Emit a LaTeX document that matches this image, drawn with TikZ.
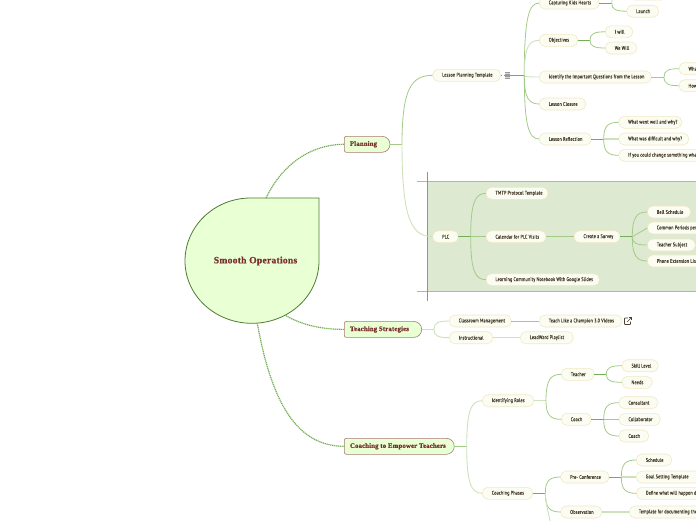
\documentclass[tikz,border=0pt]{standalone}
\usepackage{fontspec}
\setmainfont{PT Sans}
\newfontfamily\leaffont[LetterSpace=3,FakeStretch=.78,FakeBold=.25]{PT Sans}
\newfontfamily\headfont[FakeBold=.5,LetterSpace=2]{Liberation Serif Bold}
\usetikzlibrary{calc}
\definecolor{lborder}{HTML}{F1E8C4}
\definecolor{lfill}{HTML}{FBFDF2}
\definecolor{ltext}{HTML}{4A4030}
\definecolor{headtext}{HTML}{7A2E2E}
\definecolor{headborder}{HTML}{A87A72}
\definecolor{headfill}{HTML}{E9FFD4}
\definecolor{gmid}{HTML}{A3CB88}
\definecolor{gpale}{HTML}{CDE2BB}
\definecolor{gdark}{HTML}{75AD54}
\definecolor{band}{HTML}{DEE9D2}
\definecolor{bandline}{HTML}{9CCB80}
\definecolor{rootline}{HTML}{4F7A34}
\tikzset{
 leaf/.style={draw=lborder,fill=lfill,line width=.6pt,rounded corners=5.5pt,minimum height=12pt,inner ysep=0pt,inner xsep=9.5pt,outer sep=0pt,text=ltext,font=\leaffont\fontsize{5.4}{6}\selectfont,anchor=west},
 headbox/.style={inner sep=0pt,outer sep=0pt,minimum height=16pt,text=headtext,font=\headfont\fontsize{6.8}{8}\selectfont,anchor=west},
 link/.style={draw=gmid,line width=.8pt},
 palelink/.style={draw=gpale,line width=.9pt},
 stub/.style={draw=gdark,line width=1pt},
 palestub/.style={draw=gpale,line width=1.4pt},
 dotlink/.style={draw=gdark,line width=1.2pt,dash pattern=on 1.2pt off .7pt},
}
% \curv{junction}{child}{style}
\newcommand{\curv}[3]{\draw[#3] (#1) .. controls ($(#1)!.8!(#1|-#2.west)$) and ($(#2.west)!.7!(#1|-#2.west)$) .. (#2.west);}
% \lf{name}{left}{right}{cy}{text}
\newcommand{\lf}[5]{\node[leaf] (#1) at (#2,#4) {\makebox[\dimexpr#3pt-#2pt-19pt\relax][l]{#5}};}
\newcommand{\hd}[5]{%
 \draw[draw=headborder,fill=headfill,line width=.6pt] (#2+2,#4-8) -- (#3-8,#4-8) arc[start angle=270,end angle=360,radius=8] arc[start angle=0,end angle=90,radius=8] -- (#2+2,#4+8) arc[start angle=90,end angle=180,radius=2] -- (#2,#4-6) arc[start angle=180,end angle=270,radius=2] -- cycle;
 \node[headbox,inner xsep=5.7pt] (#1) at (#2,#4) {\makebox[\dimexpr#3pt-#2pt-11.4pt\relax][l]{#5}};}
\begin{document}
\begin{tikzpicture}[x=1pt,y=-1pt]
\useasboundingbox (0,0) rectangle (696,520);
% PLC band
\fill[band] (427.3,181.7) rectangle (696,291.3);
\draw[bandline,line width=1pt] (417.3,181.7) -- (696,181.7);
\draw[bandline,line width=1pt] (417.3,291.3) -- (696,291.3);
\draw[gdark,line width=.8pt] (427.3,172.3) -- (427.3,301);
% root
\draw[rootline,fill=headfill,line width=.8pt] (250.7,198) -- (319,198) -- (319,261) arc[start angle=0,end angle=180,x radius=67,y radius=62.3] arc[start angle=180,end angle=270,x radius=65.7,y radius=63] -- cycle;
\node[text=headtext,font=\headfont\fontsize{9.7}{12}\selectfont,inner sep=0pt] (root) at (255.5,261) {Smooth Operations};
% heads
\hd{plan}{344.3}{390}{144.3}{Planning}
\hd{teach}{344.3}{421.7}{329.4}{Teaching Strategies}
\hd{coachemp}{344.3}{454.3}{446.3}{Coaching to Empower Teachers}
\coordinate (rp) at (266,198);
\coordinate (rt) at (286,315.7);
\coordinate (rc) at (257.3,323.3);
\draw[dotlink] (rp) .. controls (283,163) and (312,144.3) .. (plan.west);
\draw[dotlink] (rt) .. controls (302,325) and (322,329.4) .. (teach.west);
\draw[dotlink] (rc) .. controls (272,405) and (298,446.3) .. (coachemp.west);
% leaves
\lf{lpt}{432.7}{500.7}{75.3}{Lesson Planning Template}
\lf{ckh}{539.3}{599.3}{3}{Capturing Kids Hearts}
\lf{tp}{629}{667}{-6}{}
\lf{lau}{626.7}{658.7}{11.2}{Launch}
\lf{obj}{539.3}{577.7}{40.3}{Objectives}
\lf{iw}{605.3}{632.7}{31.8}{I will}
\lf{ww}{605.3}{636.7}{48}{We Will}
\lf{iq}{539.3}{651.3}{77}{Identify the Important Questions from the Lesson}
\lf{wha}{679}{720}{68.7}{What}
\lf{how}{679}{720}{85.7}{How}
\lf{cl}{539.3}{585.7}{104}{Lesson Closure}
\lf{ref}{539.3}{591.3}{139}{Lesson Reflection}
\lf{wg}{618.7}{681.7}{122.3}{What went well and why?}
\lf{wd}{618.7}{688.7}{139}{What was difficult and why?}
\lf{ic}{618.7}{740}{155.3}{If you could change something what}
\lf{plc}{432.7}{458.3}{236.7}{PLC}
\lf{tmtp}{486}{548}{193.3}{TMTP Protocol Template}
\lf{cal}{486}{546}{236.7}{Calendar for PLC Visits}
\lf{lcn}{486}{599.3}{279.7}{Learning Community Notebook With Google Slides}
\lf{sur}{574}{620}{236.7}{Create a Survey}
\lf{bell}{647.3}{690.7}{212}{Bell Schedule}
\lf{cp}{647.3}{740}{228}{Common Periods per}
\lf{ts}{647.3}{695.3}{245}{Teacher Subject}
\lf{pe}{647.3}{720}{261}{Phone Extension List}
\lf{cm}{449.3}{511.3}{321}{Classroom Management}
\lf{tc}{539.3}{622}{321}{Teach Like a Champion 3.0 Videos}
\lf{ins}{449.3}{492.7}{337.7}{Instructional}
\lf{lw}{520.3}{573.3}{337.7}{LeadWard Playlist}
\lf{ir}{482.3}{533.7}{400.7}{Identifying Roles}
\lf{te}{561.3}{594.3}{374.3}{Teacher}
\lf{sk}{622}{658.3}{365.7}{Skill Level}
\lf{ne}{622}{652.3}{382.3}{Needs}
\lf{co}{561.3}{591.3}{419.3}{Coach}
\lf{cons}{619}{657.7}{402.7}{Consultant}
\lf{coll}{619}{660.3}{419.3}{Collaborator}
\lf{coa}{619}{648.7}{436}{Coach}
\lf{cph}{482.3}{532.7}{493.3}{Coaching Phases}
\lf{pre}{560.7}{609}{477}{Pre- Conference}
\lf{sch}{636.3}{671.7}{460}{Schedule}
\lf{gs}{636.3}{700}{477}{Goal Setting Template}
\lf{dw}{636.3}{750}{493.3}{Define what will happen dur}
\lf{obs}{560.7}{601.7}{512}{Observation}
\lf{tfd}{629.3}{750}{512}{Template for documenting the}
% junctions
\coordinate (jplan) at (402,144.3);
\coordinate (jlpt) at (524.3,75.3);
\coordinate (jckh) at (611.7,3);
\coordinate (jobj) at (590,40.3);
\coordinate (jiq) at (664,77);
\coordinate (jref) at (603.7,139);
\coordinate (jplc) at (470.7,236.7);
\coordinate (jsur) at (632.3,236.7);
\coordinate (jteach) at (434,329.4);
\coordinate (jemp) at (466.7,446.3);
\coordinate (jir) at (546,400.7);
\coordinate (jte) at (606.3,374.3);
\coordinate (jco) at (603.7,419.3);
\coordinate (jcph) at (545.3,493.3);
\coordinate (jpre) at (621.3,477);
\coordinate (bel) at (551,525);
% note icon
\node[inner sep=0pt,outer sep=0pt,minimum width=5.5pt,minimum height=6pt,fill=gray!30] (note) at (507.3,75.3) {};
\draw[gray!80,line width=.4pt] (note.north west) -- (note.north east);
\draw[gray!80,line width=.4pt] (note.west) -- (note.east);
\draw[gray!80,line width=.4pt] (note.south west) -- (note.south east);
\draw[gray!80,line width=.4pt] ($(note.north west)!.33!(note.south west)$) -- ($(note.north east)!.33!(note.south east)$);
\draw[gray!80,line width=.4pt] ($(note.north west)!.67!(note.south west)$) -- ($(note.north east)!.67!(note.south east)$);
% stubs and curves
\draw[link] (plan.east) -- (jplan);
\curv{jplan}{lpt}{link}
\curv{jplan}{plc}{palelink}
\draw[gdark,line width=.5pt,dash pattern=on 1.5pt off 1.5pt] (lpt.east) -- (note.west);
\draw[stub] (note.east) -- (jlpt);
\curv{jlpt}{ckh}{link}
\curv{jlpt}{obj}{palelink}
\curv{jlpt}{iq}{palelink}
\curv{jlpt}{cl}{link}
\curv{jlpt}{ref}{link}
\draw[stub] (ckh.east) -- (jckh);
\curv{jckh}{tp}{palelink}
\curv{jckh}{lau}{link}
\draw[stub] (obj.east) -- (jobj);
\curv{jobj}{iw}{link}
\curv{jobj}{ww}{link}
\draw[link] (iq.east) -- (jiq);
\curv{jiq}{wha}{link}
\curv{jiq}{how}{link}
\draw[stub] (ref.east) -- (jref);
\curv{jref}{wg}{link}
\draw[palestub] (jref) -- (wd.west);
\curv{jref}{ic}{link}
\draw[stub] (plc.east) -- (jplc);
\curv{jplc}{tmtp}{link}
\draw[link] (jplc) -- (cal.west);
\curv{jplc}{lcn}{link}
\draw[link,line width=.9pt] (cal.east) -- (sur.west);
\draw[stub] (sur.east) -- (jsur);
\curv{jsur}{bell}{link}
\draw[link] (jsur) -- (cp.west);
\curv{jsur}{ts}{link}
\curv{jsur}{pe}{link}
\draw[palestub] (teach.east) -- (jteach);
\curv{jteach}{cm}{palelink}
\curv{jteach}{ins}{palelink}
\draw[link] (cm.east) -- (tc.west);
\draw[palestub] (ins.east) -- (lw.west);
\draw[link,line width=.9pt] (coachemp.east) -- (jemp);
\curv{jemp}{ir}{palelink}
\curv{jemp}{cph}{palelink}
\draw[palestub] (ir.east) -- (jir);
\curv{jir}{te}{link}
\curv{jir}{co}{link}
\draw[stub] (te.east) -- (jte);
\curv{jte}{sk}{link}
\curv{jte}{ne}{link}
\draw[stub] (co.east) -- (jco);
\curv{jco}{cons}{link}
\draw[link] (jco) -- (coll.west);
\curv{jco}{coa}{link}
\draw[stub] (cph.east) -- (jcph);
\curv{jcph}{pre}{link}
\curv{jcph}{obs}{link}
\draw[palelink] (jcph) .. controls (546,505) and (549,515) .. (bel);
\draw[stub] (pre.east) -- (jpre);
\curv{jpre}{sch}{link}
\draw[palestub] (jpre) -- (gs.west);
\curv{jpre}{dw}{link}
\draw[palestub] (obs.east) -- (tfd.west);
% external link icon
\draw[ltext,line width=.55pt,rounded corners=.6pt] (628,318) -- (624.5,318) -- (624.5,324.5) -- (630.5,324.5) -- (630.5,321.5);
\draw[ltext,line width=.55pt] (627,322) -- (631,318);
\draw[ltext,line width=.55pt] (628.5,317.5) -- (631.3,317.5) -- (631.3,320);
\end{tikzpicture}
\end{document}
